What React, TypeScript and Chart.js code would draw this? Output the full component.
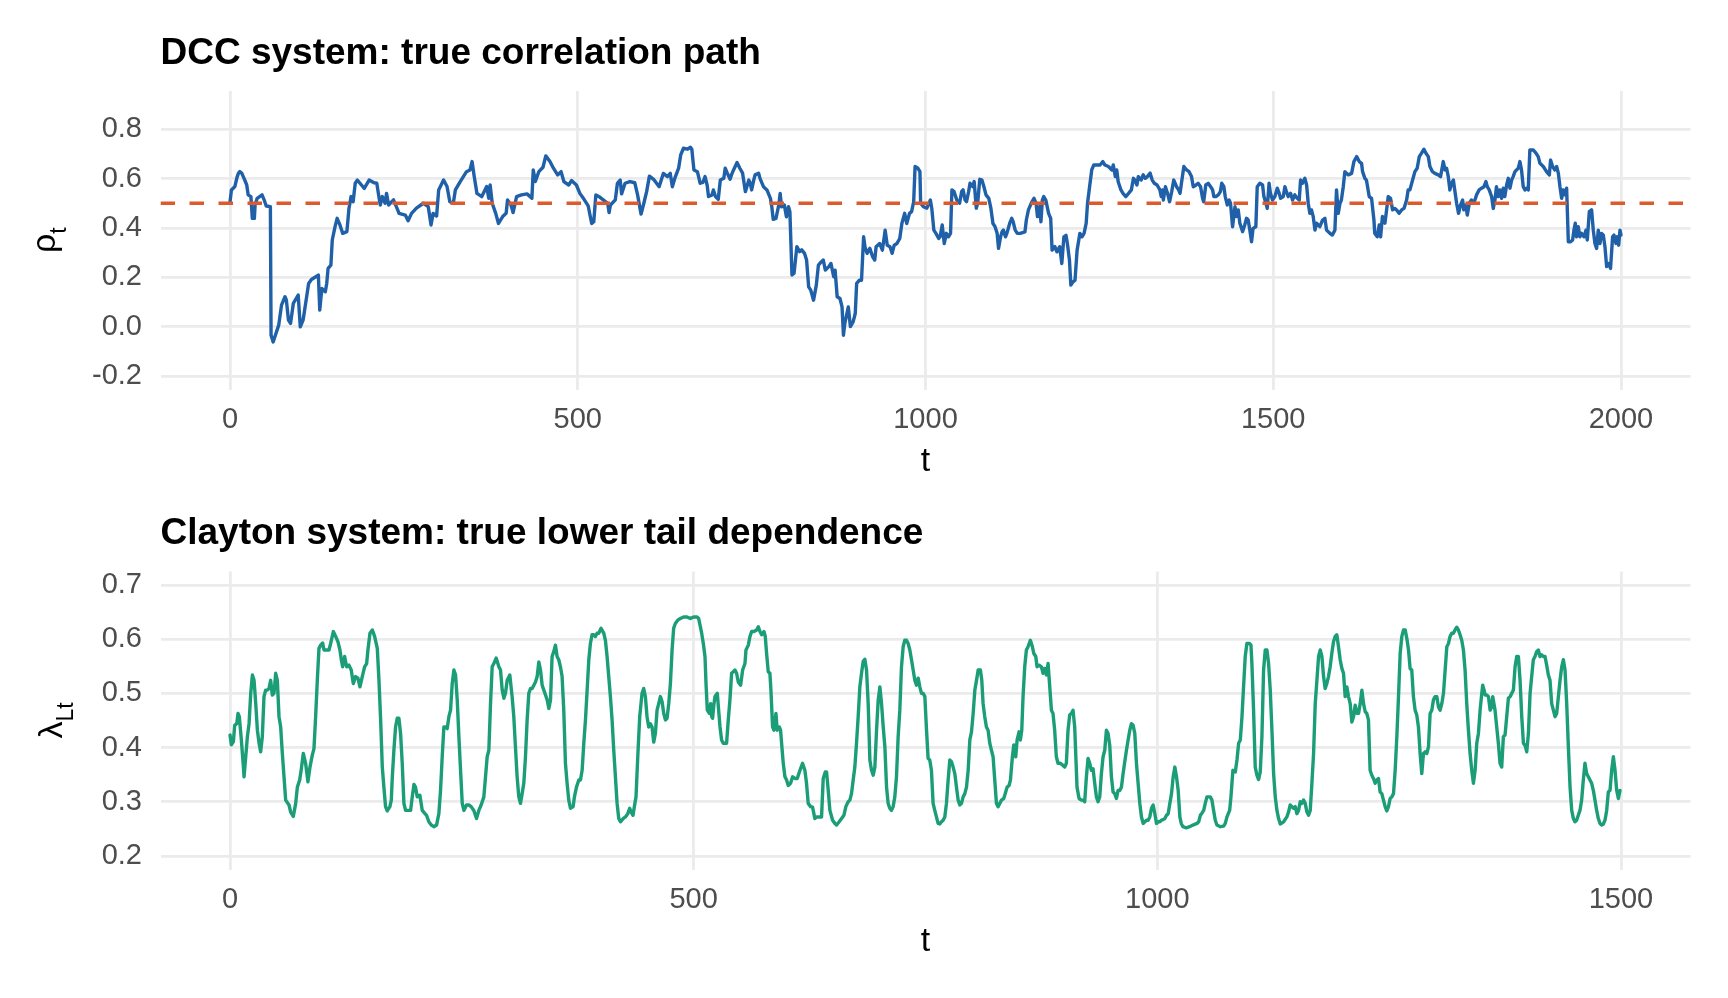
import React, { useEffect, useRef } from 'react';
import Chart from 'chart.js/auto';

// Achsen-Ticks und Referenzniveau
const dccTicksX = [0, 500, 1000, 1500, 2000];
const dccTicksY = [-0.2, 0, 0.2, 0.4, 0.6, 0.8];
const claytonTicksX = [0, 500, 1000, 1500];
const claytonTicksY = [0.2, 0.3, 0.4, 0.5, 0.6, 0.7];
const dccRef = 0.5;

// DCC: [t, rho_t]
const dccPath: [number, number][] = [
  [0, .506], [2, .554], [7, .568], [10, .605], [12, .621], [14, .628], [17, .621], [19, .608], [22, .588], [24, .574],
  [26, .534], [30, .527], [32, .439], [34, .466], [35, .439], [36, .493], [39, .520], [46, .534], [49, .514], [52, .489],
  [58, .486], [59, -.035], [62, -.062], [66, -.028], [70, .006], [74, .087], [79, .121], [81, .107], [84, .026], [87, .013],
  [91, .094], [98, .128], [101, -.001], [105, .026], [109, .100], [113, .175], [117, .191], [125, .205], [127, .209], [129, .067],
  [132, .155], [137, .141], [139, .175], [141, .236], [145, .249], [147, .351], [151, .405], [154, .439], [158, .412], [162, .378],
  [168, .385], [171, .479], [174, .527], [177, .506], [180, .581], [183, .594], [189, .574], [193, .560], [200, .594], [207, .583],
  [211, .581], [214, .527], [216, .493], [219, .527], [223, .500], [225, .540], [228, .493], [235, .514], [240, .480], [243, .459],
  [252, .452], [256, .429], [261, .459], [268, .480], [278, .500], [285, .486], [289, .412], [292, .459], [297, .448], [300, .554],
  [307, .594], [312, .568], [316, .506], [321, .500], [324, .554], [331, .588], [340, .628], [345, .635], [348, .669], [351, .610],
  [355, .540], [362, .527], [369, .568], [372, .520], [374, .574], [377, .500], [382, .459], [386, .418], [392, .446], [397, .459],
  [399, .513], [404, .493], [407, .462], [412, .527], [419, .534], [427, .538], [434, .520], [436, .635], [439, .588], [444, .628],
  [450, .646], [454, .692], [460, .669], [465, .642], [471, .615], [476, .628], [480, .588], [487, .574], [491, .592], [498, .574],
  [503, .540], [509, .516], [515, .489], [520, .418], [523, .425], [526, .534], [532, .524], [538, .511], [543, .500], [545, .462],
  [547, .493], [554, .514], [557, .581], [561, .594], [563, .538], [568, .581], [575, .588], [582, .583], [586, .534], [591, .456],
  [595, .500], [599, .547], [603, .610], [609, .597], [617, .567], [623, .621], [629, .608], [633, .621], [636, .567], [640, .605],
  [645, .642], [648, .696], [652, .723], [658, .719], [662, .727], [664, .719], [667, .635], [672, .628],
  [676, .581], [680, .585], [683, .608], [686, .574], [688, .527], [693, .534], [695, .554], [698, .527], [702, .516], [705, .594],
  [710, .601], [712, .642], [715, .622], [719, .597], [721, .615], [724, .635], [729, .665], [733, .642], [737, .622], [741, .547],
  [746, .594], [748, .581], [750, .554], [753, .594], [755, .615], [760, .622], [762, .601], [767, .567], [772, .554], [777, .520],
  [779, .486], [781, .435], [785, .439], [789, .493], [791, .540], [793, .486], [797, .493], [800, .445], [803, .486], [805, .466],
  [808, .209], [811, .216], [815, .324], [819, .304], [822, .311], [826, .297], [829, .270], [832, .161], [835, .148], [839, .107],
  [843, .168], [846, .249], [850, .262], [853, .270], [856, .229], [861, .243], [864, .256], [868, .202], [870, .229], [873, .121],
  [877, .114], [880, .080], [882, -.035], [884, .013], [887, .053], [889, .080], [892, .000], [896, .020], [899, .053], [901, .175],
  [905, .188], [908, .188], [911, .364], [913, .323], [916, .297], [920, .317], [924, .283], [927, .270], [929, .324], [934, .337],
  [938, .310], [942, .391], [945, .330], [949, .324], [952, .297], [955, .330], [959, .337], [963, .357], [966, .418], [970, .459],
  [973, .418], [977, .459], [980, .466], [983, .506], [985, .649], [989, .642], [992, .628], [993, .500], [997, .486], [1002, .480],
  [1007, .513], [1009, .480], [1012, .391], [1015, .378], [1019, .357], [1021, .364], [1024, .412], [1027, .337], [1030, .378], [1033, .364],
  [1036, .378], [1038, .554], [1041, .547], [1045, .513], [1049, .500], [1052, .547], [1054, .554], [1057, .513], [1059, .506], [1062, .547],
  [1064, .581], [1068, .567], [1070, .588], [1073, .480], [1075, .500], [1078, .597], [1081, .595], [1084, .567], [1087, .534], [1091, .520],
  [1094, .480], [1097, .418], [1100, .405], [1103, .378], [1105, .317], [1108, .364], [1110, .384], [1112, .391], [1115, .364], [1117, .378],
  [1121, .418], [1124, .439], [1126, .425], [1129, .391], [1132, .378], [1136, .378], [1143, .384], [1145, .432], [1148, .473], [1153, .506],
  [1156, .520], [1159, .500], [1161, .446], [1164, .486], [1166, .425], [1168, .513], [1170, .527], [1173, .513], [1177, .459], [1180, .439],
  [1182, .310], [1186, .324], [1189, .303], [1193, .324], [1196, .256], [1199, .364], [1202, .370], [1204, .337], [1207, .270], [1209, .168],
  [1212, .181], [1215, .188], [1218, .310], [1222, .378], [1225, .364], [1228, .378], [1231, .418], [1233, .500], [1236, .568], [1239, .635],
  [1242, .655], [1246, .655], [1251, .655], [1255, .669], [1258, .655], [1263, .649], [1268, .635], [1270, .655], [1273, .608], [1275, .635],
  [1277, .588], [1281, .554], [1284, .540], [1288, .527], [1292, .540], [1296, .554], [1299, .601], [1301, .594], [1304, .574], [1306, .608],
  [1310, .594], [1313, .615], [1316, .601], [1319, .608], [1323, .622], [1326, .594], [1329, .581], [1333, .574], [1337, .554], [1339, .527],
  [1341, .554], [1342, .513], [1345, .567], [1348, .540], [1351, .506], [1354, .547], [1357, .594], [1361, .567], [1364, .554], [1366, .540],
  [1368, .581], [1371.5, .649], [1375.4, .635], [1379, .628], [1382.5, .608], [1385, .567], [1389, .574], [1392, .581], [1395.5, .567], [1398.4, .520],
  [1400, .506], [1403, .574], [1406.5, .581], [1410, .567], [1412.8, .554], [1414.7, .527], [1417.5, .527], [1421, .534], [1424, .547], [1426, .581],
  [1429, .567], [1431, .527], [1434, .493], [1436.7, .513], [1438.6, .500], [1441.5, .405], [1445, .486], [1447, .446], [1449.7, .473], [1452, .419],
  [1456, .385], [1459, .412], [1461.6, .439], [1464, .432], [1466.4, .391], [1468.8, .344], [1471, .398], [1475, .405], [1477, .567], [1480.8, .581],
  [1484.7, .574], [1486.6, .527], [1489.5, .500], [1491.4, .479], [1494, .581], [1496, .540], [1499, .513], [1502.4, .527], [1505.8, .561], [1508.6, .540],
  [1510.5, .520], [1514.4, .527], [1516.8, .567], [1519, .547], [1521.6, .527], [1525, .540], [1527.8, .513], [1531, .534], [1534.5, .520], [1537.4, .513],
  [1539.3, .594], [1542, .581], [1545.5, .601], [1548, .574], [1550.3, .500], [1552.7, .459], [1555, .473], [1557.5, .446], [1560, .391], [1562.3, .419],
  [1567, .405], [1571, .432], [1574.3, .439], [1576.7, .391], [1581.5, .378], [1585, .371], [1588.7, .391], [1591, .554], [1593.5, .459], [1596, .500],
  [1598, .513], [1600.7, .567], [1603, .628], [1608, .615], [1612.7, .621], [1616, .669], [1620, .689], [1623.7, .669], [1627, .662], [1628.5, .628],
  [1631.8, .601], [1634, .594], [1638, .527], [1641.4, .520], [1644.8, .432], [1646, .378], [1649.6, .364], [1652.4, .412], [1654.4, .364], [1657, .446],
  [1660.6, .419], [1663, .473], [1665.4, .527], [1668.7, .520], [1671.6, .473], [1675, .479], [1677.4, .473], [1681, .459], [1684.6, .473], [1688, .479],
  [1691.8, .513], [1694, .554], [1696.5, .554], [1700.4, .594], [1703.7, .628], [1707, .642], [1710, .689], [1713.3, .703], [1716.7, .719], [1719.6, .703],
  [1723, .689], [1725.3, .649], [1729, .628], [1732.5, .621], [1737.3, .615], [1740.6, .608], [1744.5, .669], [1747, .635], [1749.3, .642], [1751.7, .608],
  [1754, .554], [1756.5, .581], [1759, .594], [1761, .554], [1763.7, .500], [1766.5, .459], [1769.4, .493], [1772.3, .513], [1774, .473], [1777, .493],
  [1779, .452], [1782, .500], [1785, .513], [1787.6, .500], [1790, .513], [1792.4, .534], [1796, .554], [1799.6, .561], [1803, .567], [1805.8, .588],
  [1807.8, .567], [1810.6, .554], [1814, .527], [1816.4, .479], [1818.8, .513], [1821, .567], [1823.6, .527], [1826, .554], [1828.4, .520], [1830.8, .561],
  [1833, .527], [1835.6, .574], [1838, .601], [1840.4, .561], [1842.8, .594], [1845, .608], [1847.6, .628], [1850, .635], [1852.4, .642], [1854.7, .669],
  [1857, .635], [1859.5, .567], [1862, .554], [1864.3, .561], [1866.7, .554], [1869, .716], [1874, .716], [1877.8, .703], [1881, .689], [1883.5, .662],
  [1888.3, .649], [1893, .628], [1897, .615], [1898.8, .675], [1901.7, .649], [1905, .635], [1907.5, .649], [1910, .621], [1912.3, .567], [1914.7, .520],
  [1917, .554], [1919.5, .534], [1921.9, .561], [1924.3, .344], [1927.6, .344], [1930.5, .351], [1932.4, .391], [1934.3, .419], [1936.2, .364], [1938.6, .405],
  [1941, .364], [1943.4, .378], [1946.8, .364], [1949.7, .391], [1951.6, .351], [1954.5, .466], [1957.8, .473], [1960.2, .391], [1962.6, .337], [1965, .317],
  [1967.4, .391], [1969.8, .337], [1972.2, .378], [1974.6, .371], [1977, .324], [1979.4, .243], [1982.3, .256], [1985, .236], [1988, .364], [1990, .371],
  [1992.8, .337], [1994.7, .364], [1996.7, .330], [1998.6, .391], [2000, .371]
];

// Clayton: [t, lambda_Lt]
const claytonPath: [number, number][] = [
  [0, .423], [1.4, .405], [3.6, .411], [5, .441], [7.2, .444], [8.6, .463], [10, .457], [12.2, .414], [14.4, .364], [15.1, .346],
  [16.9, .383], [18.7, .420], [20.5, .444], [22.3, .500], [24.1, .534], [25.9, .524], [27.7, .481], [29.5, .432], [31.3, .408], [33, .392],
  [34.8, .420], [36.6, .494], [38.4, .506], [40.2, .506], [42, .509], [43.8, .524], [45.6, .497], [47.4, .500], [49.2, .537], [51, .524],
  [52.8, .457], [54.6, .438], [56.4, .389], [58.2, .346], [60, .303], [63.6, .294], [65.4, .281], [68.2, .273], [70.8, .297], [72.6, .327],
  [75.1, .340], [76.9, .361], [79, .389], [81.5, .371], [84, .337], [86.2, .364], [88.7, .386], [90.5, .398], [92.3, .457], [94.1, .524],
  [95.9, .583], [97.7, .589], [99.9, .593], [101.3, .580], [104.2, .580], [106.7, .580], [108.5, .592], [111.4, .614], [113.9, .605], [116.4, .595],
  [118.5, .580], [120, .562], [121.4, .549], [123.6, .568], [125.7, .549], [128.2, .552], [130.7, .543], [132.9, .518], [135.4, .531], [137.9, .528],
  [140.1, .512], [142.6, .531], [145.1, .549], [147.3, .555], [148.7, .580], [150.9, .611], [153.4, .617], [155.9, .605], [158.8, .583], [160.6, .524],
  [162.4, .451], [164.2, .364], [165.9, .327], [167.7, .291], [169.5, .283], [172.4, .291], [173.9, .303], [175, .346], [176.7, .395], [178.5, .438],
  [180.3, .454], [182.1, .454], [183.9, .426], [185.7, .371], [187.5, .297], [189.3, .284], [191.8, .284], [194.7, .284], [196.5, .309], [198.3, .332],
  [200, .327], [201.9, .309], [204.7, .312], [207.3, .284], [209.8, .279], [211.9, .275], [214.4, .263], [217, .257], [219.8, .254], [222.7, .257],
  [225.2, .278], [227, .321], [228.8, .383], [230.6, .438], [232.4, .438], [234.2, .435], [236, .457], [237.8, .469], [239.6, .518], [241.4, .543],
  [243.2, .534], [245, .488], [246.8, .420], [248.6, .358], [250.4, .297], [252.2, .284], [255, .294], [257.5, .294], [260, .291], [262.9, .284],
  [265.8, .269], [268.3, .284], [270.8, .294], [273.7, .309], [275.5, .346], [277.3, .383], [279.1, .395], [280.9, .481], [282.7, .549], [284.5, .555],
  [287, .565], [289.9, .549], [291.7, .543], [293.5, .506], [295.3, .491], [297, .500], [298.9, .524], [301.7, .534], [304.2, .494], [306, .457],
  [307.8, .401], [309.6, .346], [311.4, .309], [313.2, .297], [315, .315], [316.8, .334], [318.6, .383], [320.4, .451], [322.2, .500], [324, .509],
  [325.8, .509], [327.6, .515], [329.4, .521], [331.2, .531], [333, .558], [334.8, .543], [336.6, .515], [338.4, .506], [340.2, .497], [342, .488],
  [343.8, .472], [345.6, .488], [347.3, .568], [349.1, .577], [350.9, .589], [352.7, .568], [354.5, .562], [356.3, .549], [358.1, .531], [359.9, .469],
  [361.7, .371], [363.5, .334], [365.3, .303], [367.1, .288], [370, .291], [371.4, .309], [373.6, .327], [376.1, .340], [377.9, .340], [379.7, .358],
  [381.5, .408], [383.3, .451], [385.1, .506], [386.9, .562], [388.6, .592], [390.4, .608], [392.2, .608], [394, .605], [395.8, .611], [397.6, .611],
  [400.1, .620], [403, .611], [404.8, .598], [406.6, .568], [408.4, .531], [410.2, .494], [412, .451], [413.8, .395], [415.6, .346], [417.4, .297],
  [419.2, .269], [421, .263], [423.9, .269], [426.4, .272], [428.9, .278], [431, .288], [432.5, .281], [434.6, .275], [436, .291], [437.8, .309],
  [439.7, .383], [441.8, .457], [444.3, .500], [446.1, .509], [447.9, .494], [449.7, .457], [451.5, .438], [453.3, .444], [455.1, .438], [456.9, .410],
  [458.7, .426], [460.5, .469], [462.3, .481], [464.1, .494], [465.9, .485], [467.7, .463], [469.5, .451], [471.3, .454], [473.1, .481], [474.9, .518],
  [476.7, .580], [478.4, .620], [480.2, .629], [482.8, .635], [485.6, .638], [489.2, .641], [492.8, .641], [496.4, .638], [500, .641], [503.6, .641],
  [505.4, .638], [508.6, .611], [510.4, .592], [512.2, .568], [513.3, .518], [514.7, .469], [516.9, .463], [518.3, .481], [519.4, .457], [520.4, .454],
  [521.9, .481], [523, .494], [525.5, .500], [526.9, .469], [528.4, .438], [530.1, .414], [531.9, .408], [535.5, .408], [537.3, .451], [539.1, .488],
  [540.9, .537], [542.7, .540], [544.5, .543], [546.3, .537], [548.1, .521], [550.6, .515], [552.8, .543], [555.3, .555], [556.4, .580], [558.9, .589],
  [560.7, .605], [562.5, .614], [565, .614], [567.9, .617], [569.7, .623], [571.5, .614], [573.3, .608], [575.8, .614], [577.2, .605], [578.6, .574],
  [580.4, .540], [582.2, .537], [583.3, .506], [585.1, .438], [586.5, .432], [588.7, .463], [590.1, .432], [592.3, .438], [593.7, .432], [594.8, .408],
  [596.6, .371], [598.4, .346], [600.2, .340], [602, .330], [604.5, .334], [606.7, .346], [609.2, .343], [611.7, .343], [614.6, .358], [617.4, .371],
  [619.9, .358], [621.7, .334], [623.5, .297], [626.1, .291], [628.2, .290], [630.7, .269], [632.5, .272], [635.4, .272], [637.9, .272], [639.7, .343],
  [641.9, .355], [643.3, .355], [645.1, .321], [646.9, .284], [649.8, .266], [652.3, .260], [654.1, .257], [656.9, .263], [659.5, .269], [662, .275],
  [664.1, .291], [666.6, .300], [668.4, .303], [670.2, .315], [672, .340], [673.8, .364], [675.6, .408], [677.4, .457], [679.2, .512], [681, .537],
  [682.8, .559], [684.6, .563], [686.4, .543], [688.2, .481], [690, .377], [691.8, .358], [693.6, .349], [695.4, .364], [697.2, .432], [699, .488],
  [700.8, .512], [702.6, .481], [704.4, .438], [706.2, .401], [708, .327], [709.7, .297], [711.5, .288], [713.3, .284], [715.1, .291], [716.9, .309],
  [718.7, .346], [720.5, .420], [722.3, .469], [724.1, .549], [725.9, .586], [727.7, .598], [729.5, .598], [731.3, .592], [733.1, .580], [734.9, .562],
  [736.7, .543], [738.5, .524], [740.3, .515], [742.1, .528], [743.9, .512], [745.7, .500], [747.5, .500], [749.3, .494], [751.1, .432], [752.8, .380],
  [754.6, .377], [756.4, .358], [758.2, .297], [760, .284], [761.8, .272], [763.6, .260], [765.4, .259], [767.2, .263], [769, .266], [770.8, .272],
  [772.6, .297], [774.4, .340], [776.2, .377], [778, .374], [779.8, .364], [781.6, .352], [783.4, .327], [785.2, .303], [787, .294], [788.8, .297],
  [790.6, .309], [792.4, .315], [794.2, .327], [796, .358], [797.8, .414], [799.6, .429], [801.4, .463], [803.2, .506], [805, .524], [806.8, .543],
  [809.2, .543], [810.7, .524], [812.1, .481], [813.9, .457], [815.7, .438], [817.5, .432], [819.3, .408], [821.1, .395], [822.9, .383], [824.7, .340],
  [826.5, .297], [828.3, .291], [830.1, .297], [831.9, .303], [834.4, .306], [836.5, .318], [838, .327], [840.1, .330], [841.6, .340], [843.7, .383],
  [845.2, .405], [846.2, .401], [847.3, .383], [848.8, .414], [850.9, .429], [852.3, .414], [853.8, .432], [855.2, .494], [857, .549], [858.8, .580],
  [860.6, .586], [863.1, .598], [865.3, .586], [866.7, .574], [868.9, .568], [870.3, .549], [872.5, .552], [875, .549], [876.8, .537], [878.6, .546],
  [880.4, .534], [882.2, .555], [884, .512], [885.8, .469], [887.5, .463], [889.3, .432], [891.1, .383], [892.9, .371], [895.4, .371], [897.6, .368],
  [900.1, .364], [901.9, .371], [903.7, .432], [905.5, .460], [907.3, .463], [909.1, .469], [910.9, .438], [912, .389], [913.4, .327], [915.6, .306],
  [918.1, .303], [919.9, .303], [921.7, .300], [923.5, .346], [925.3, .380], [927.1, .371], [928.9, .358], [930.7, .361], [932.5, .334], [934.3, .309],
  [936.1, .300], [937.9, .309], [939.7, .352], [941.5, .383], [943.3, .395], [945.1, .432], [946.9, .426], [948.7, .404], [950.5, .346], [952.3, .318],
  [954.1, .315], [955.9, .306], [957.7, .321], [959.5, .321], [961.3, .327], [963.1, .352], [964.9, .374], [966.7, .395], [968.5, .414], [970.3, .432],
  [972.1, .444], [973.9, .441], [975.7, .426], [977.5, .371], [979.3, .334], [981.1, .297], [982.9, .272], [984.7, .260], [986.5, .263], [988.3, .266],
  [990.1, .266], [991.9, .272], [993.7, .288], [995.5, .294], [997.3, .278], [999.1, .260], [1000.9, .263], [1002.7, .263], [1004.5, .266], [1006.3, .267],
  [1008.1, .269], [1009.9, .275], [1011.7, .278], [1013.5, .297], [1015.3, .315], [1017.1, .346], [1018.9, .364], [1020.7, .346], [1022.5, .321], [1024.3, .272],
  [1025.8, .260], [1027.6, .254], [1031.2, .252], [1034.8, .254], [1038.4, .257], [1042.8, .260], [1044.6, .263], [1046.4, .275], [1048.1, .279], [1050, .284],
  [1051.7, .297], [1053.5, .309], [1057.1, .309], [1058.9, .303], [1060.7, .284], [1062.5, .266], [1064.3, .257], [1067.9, .254], [1071.5, .255], [1073.3, .260],
  [1075.1, .272], [1078, .284], [1079.4, .309], [1081.5, .358], [1084.1, .355], [1085.9, .377], [1087.7, .408], [1089.5, .414], [1091.3, .457], [1093, .512],
  [1094.8, .568], [1096.6, .592], [1099.5, .592], [1101, .589], [1102, .555], [1103.8, .469], [1105.6, .364], [1107.4, .349], [1109.2, .341], [1111, .355],
  [1112.8, .420], [1114.6, .543], [1116.4, .580], [1118.2, .580], [1120, .555], [1121.8, .506], [1123.6, .432], [1125.4, .352], [1127.2, .309], [1129, .284],
  [1130.8, .269], [1132.6, .259], [1136.2, .263], [1139.7, .272], [1141.5, .281], [1143.3, .294], [1146.9, .288], [1148.7, .291], [1150.5, .278], [1152.3, .284],
  [1154.1, .300], [1155.9, .297], [1157.7, .303], [1159.5, .297], [1161.3, .281], [1163.1, .275], [1164.9, .284], [1166.7, .334], [1168.5, .389], [1170.3, .481],
  [1172.1, .524], [1173.9, .568], [1175.7, .580], [1177.5, .568], [1179.3, .531], [1181, .509], [1182.8, .518], [1184.6, .531], [1186.4, .549], [1188.2, .574],
  [1190, .595], [1191.8, .605], [1193.6, .608], [1195.4, .586], [1197.2, .562], [1199, .546], [1200.8, .537], [1202.6, .494], [1204.4, .512], [1206.2, .494],
  [1208, .481], [1209.8, .447], [1211.6, .457], [1213.4, .478], [1215.2, .463], [1217, .463], [1218.8, .481], [1220.6, .506], [1222.4, .481], [1224.2, .466],
  [1225.9, .463], [1227.7, .451], [1229.5, .358], [1231.3, .349], [1233.1, .343], [1234.9, .334], [1236.7, .340], [1238.5, .343], [1240.3, .318], [1242.1, .315],
  [1243.9, .303], [1245.7, .291], [1247.5, .283], [1249.3, .291], [1251.1, .306], [1252.9, .309], [1254.7, .315], [1256.5, .358], [1258.3, .420], [1260.1, .494],
  [1261.9, .574], [1263.7, .605], [1265.5, .617], [1267.3, .617], [1269.1, .601], [1270.9, .580], [1272.6, .546], [1274.4, .543], [1276.2, .494], [1278, .469],
  [1279.8, .460], [1281.6, .438], [1283.4, .389], [1285.2, .352], [1287, .389], [1288.8, .392], [1290.6, .389], [1292.4, .401], [1294.2, .463], [1296, .469],
  [1297.8, .488], [1299.6, .494], [1301.4, .494], [1303.2, .475], [1305, .469], [1306.8, .481], [1308.6, .500], [1310.4, .543], [1312.2, .586], [1314, .592],
  [1315.7, .605], [1317.5, .611], [1319.3, .611], [1321.1, .617], [1322.9, .622], [1324.7, .617], [1326.5, .608], [1328.3, .598], [1330.1, .580], [1331.9, .543],
  [1333.7, .481], [1335.5, .432], [1337.3, .389], [1339.1, .358], [1340.9, .334], [1342.7, .358], [1344.5, .408], [1346.3, .426], [1348.1, .469], [1349.9, .500],
  [1350.9, .515], [1352.4, .506], [1353.5, .497], [1355.3, .497], [1357.1, .494], [1358.9, .469], [1360.6, .475], [1361.7, .494], [1364.2, .469], [1366, .438],
  [1367.8, .408], [1369.6, .371], [1371.4, .364], [1373.2, .420], [1375, .423], [1376.8, .457], [1378.6, .491], [1380.4, .494], [1382.2, .500], [1384, .506],
  [1385.8, .549], [1387.6, .568], [1389.4, .568], [1391.2, .524], [1393, .457], [1394.8, .408], [1396.6, .404], [1398.4, .392], [1400.2, .426], [1402, .500],
  [1403.7, .531], [1405.5, .562], [1407.3, .568], [1409.1, .577], [1410.9, .580], [1412.7, .568], [1414.5, .571], [1416.3, .568], [1418.1, .568], [1419.9, .552],
  [1421.7, .534], [1423.5, .524], [1425.3, .481], [1427.1, .469], [1428.9, .457], [1430.7, .463], [1432.5, .494], [1434.3, .524], [1436.1, .549], [1437.9, .562],
  [1439.7, .543], [1441.5, .481], [1443.3, .401], [1445.1, .327], [1446.9, .284], [1448.7, .269], [1450.4, .263], [1452.2, .266], [1454, .275], [1455.8, .284],
  [1457.6, .303], [1459.4, .340], [1461.2, .371], [1463, .352], [1464.8, .346], [1466.6, .340], [1468.4, .334], [1470.2, .321], [1472, .303], [1473.8, .284],
  [1475.6, .269], [1477.4, .260], [1479.2, .257], [1481, .259], [1482.8, .266], [1484.6, .284], [1486.4, .318], [1488.2, .321], [1490, .358], [1491.8, .383],
  [1493.6, .358], [1495.4, .321], [1497.2, .306], [1499, .321], [1500, .321]
];

const FONT = '"Liberation Sans", Arial, Helvetica, sans-serif';
const W = 1728;
const H = 499;

// Titel, Achsentitel (mit Tiefstellung) direkt auf den Canvas zeichnen
const panelText = {
  id: 'panelText',
  afterDraw(chart: any, _args: any, opts: any) {
    const { ctx, chartArea: a } = chart;
    ctx.save();
    ctx.fillStyle = '#000000';
    ctx.textBaseline = 'alphabetic';

    ctx.font = `bold 37px ${FONT}`;
    ctx.textAlign = 'left';
    ctx.fillText(opts.title, a.left, a.top - 27.5);

    ctx.font = `34px ${FONT}`;
    ctx.textAlign = 'center';
    ctx.fillText('t', (a.left + a.right) / 2, a.bottom + 81.5);

    const mainFont = `34px ${FONT}`;
    const subFont = `23px ${FONT}`;
    ctx.font = mainFont;
    const w1 = ctx.measureText(opts.yMain).width;
    ctx.font = subFont;
    const w2 = ctx.measureText(opts.ySub).width;
    ctx.translate(opts.yBase, (a.top + a.bottom) / 2);
    ctx.rotate(-Math.PI / 2);
    ctx.textAlign = 'left';
    const x0 = -(w1 + w2) / 2;
    ctx.font = mainFont;
    ctx.fillText(opts.yMain, x0, 0);
    ctx.font = subFont;
    ctx.fillText(opts.ySub, x0 + w1, opts.subShift);
    ctx.restore();
  }
};

function buildScales(xMin: number, xMax: number, xTicks: number[], yMin: number, yMax: number, yTicks: number[], xHeight: number) {
  const grid = { color: '#EBEBEB', lineWidth: 2.8, drawTicks: false };
  const tickFont = { family: FONT, size: 29 };
  return {
    x: {
      type: 'linear' as const,
      min: xMin,
      max: xMax,
      grid,
      border: { display: false },
      ticks: { color: '#4D4D4D', font: tickFont, padding: 13, maxRotation: 0, callback: (v: any) => String(v) },
      afterBuildTicks: (s: any) => { s.ticks = xTicks.map(v => ({ value: v })); },
      afterFit: (s: any) => { s.height = xHeight; }
    },
    y: {
      type: 'linear' as const,
      min: yMin,
      max: yMax,
      grid,
      border: { display: false },
      ticks: { color: '#4D4D4D', font: tickFont, padding: 18.5, callback: (v: any) => Number(v).toFixed(1) },
      afterBuildTicks: (s: any) => { s.ticks = yTicks.map(v => ({ value: v })); },
      afterFit: (s: any) => { s.width = 160.5; }
    }
  };
}

const App: React.FC = () => {
  const topRef = useRef<HTMLCanvasElement | null>(null);
  const bottomRef = useRef<HTMLCanvasElement | null>(null);

  useEffect(() => {
    document.body.style.margin = '0';
    if (!topRef.current || !bottomRef.current) return;

    const top = new Chart(topRef.current, {
      type: 'line',
      data: {
        datasets: [
          {
            data: [{ x: -100, y: dccRef }, { x: 2100, y: dccRef }],
            borderColor: '#DD5A2C',
            borderWidth: 3.3,
            borderDash: [14.5, 14.5],
            pointRadius: 0
          },
          {
            data: dccPath.map(([x, y]) => ({ x, y })),
            borderColor: '#1F60A8',
            borderWidth: 3.4,
            borderJoinStyle: 'round',
            borderCapStyle: 'round',
            pointRadius: 0,
            tension: 0
          }
        ]
      },
      options: {
        animation: false,
        responsive: true,
        maintainAspectRatio: false,
        layout: { padding: { top: 91, right: 37.5, left: 0, bottom: 0 } },
        plugins: {
          legend: { display: false },
          tooltip: { enabled: false },
          panelText: { title: 'DCC system: true correlation path', yMain: 'ρ', ySub: 't', yBase: 55, subShift: 11 }
        } as any,
        scales: buildScales(-100, 2100, dccTicksX, -0.255, 0.955, dccTicksY, 109.5) as any
      },
      plugins: [panelText]
    });

    const bottom = new Chart(bottomRef.current, {
      type: 'line',
      data: {
        datasets: [
          {
            data: claytonPath.map(([x, y]) => ({ x, y })),
            borderColor: '#1B9E77',
            borderWidth: 3.4,
            borderJoinStyle: 'round',
            borderCapStyle: 'round',
            pointRadius: 0,
            tension: 0
          }
        ]
      },
      options: {
        animation: false,
        responsive: true,
        maintainAspectRatio: false,
        layout: { padding: { top: 72.4, right: 37.5, left: 0, bottom: 0 } },
        plugins: {
          legend: { display: false },
          tooltip: { enabled: false },
          panelText: { title: 'Clayton system: true lower tail dependence', yMain: 'λ', ySub: 'Lt', yBase: 62, subShift: 11 }
        } as any,
        scales: buildScales(-75, 1575, claytonTicksX, 0.175, 0.725, claytonTicksY, 128.5) as any
      },
      plugins: [panelText]
    });

    return () => {
      top.destroy();
      bottom.destroy();
    };
  }, []);

  return (
    <div style={{ position: 'absolute', left: 0, top: 0, width: W, height: 998, background: '#FFFFFF' }}>
      <div style={{ position: 'absolute', left: 0, top: 0, width: W, height: H }}>
        <canvas ref={topRef} />
      </div>
      <div style={{ position: 'absolute', left: 0, top: H, width: W, height: H }}>
        <canvas ref={bottomRef} />
      </div>
    </div>
  );
};

export default App;
